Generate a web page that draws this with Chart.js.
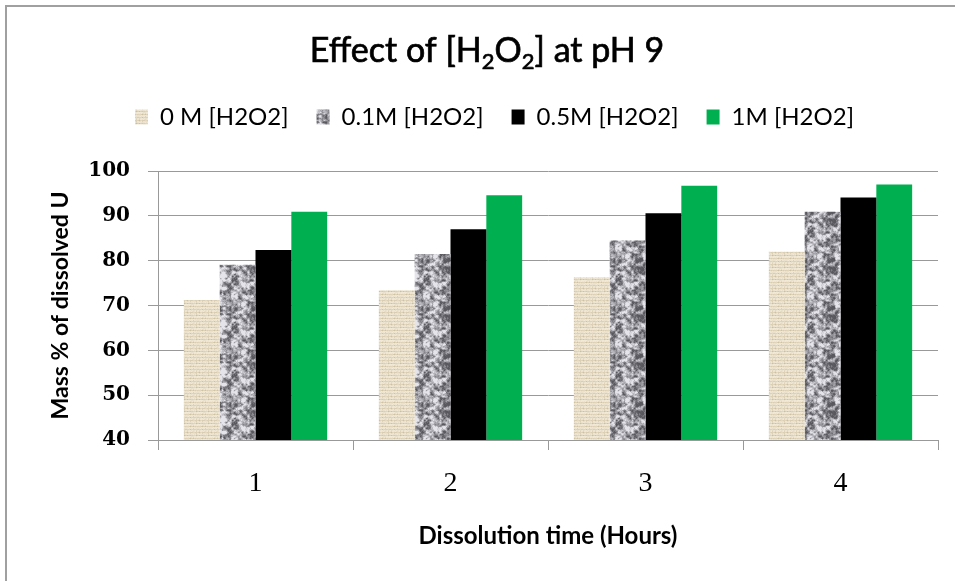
<!DOCTYPE html>
<html>
<head>
<meta charset="utf-8">
<script src="https://cdn.jsdelivr.net/npm/chart.js@4.4.1/dist/chart.umd.min.js"></script>
<style>
  html, body { margin: 0; padding: 0; background: #fff; }
  canvas { display: block; }
</style>
</head>
<body>
<canvas id="h2o2Chart" width="955" height="581"></canvas>
<script>
// Dissolution data, pH 9
const hours = ['1', '2', '3', '4'];
const conc0 = [71.2, 73.4, 76.3, 82.0];
const conc01 = [79.1, 81.5, 84.5, 90.9];
const conc05 = [82.4, 87.0, 90.6, 94.1];
const conc1 = [90.9, 94.6, 96.7, 97.0];
const seriesNames = ['0 M [H2O2]', '0.1M [H2O2]', '0.5M [H2O2]', '1M [H2O2]'];
const yMin = 40, yMax = 100, yStep = 10;

// small integer hash -> [0,1), keeps the textures the same on every load
function hash(x, y, s) {
    let h = Math.imul(x, 374761393) + Math.imul(y, 668265263) + Math.imul(s, 1442695041);
    h = Math.imul(h ^ (h >>> 13), 1274126177);
    h ^= h >>> 16;
    return (h >>> 0) / 4294967296;
}

function valueNoise(x, y, cell, size, seed) {
    const n = size / cell;
    const gx = x / cell, gy = y / cell;
    const x0 = Math.floor(gx), y0 = Math.floor(gy);
    let fx = gx - x0, fy = gy - y0;
    fx = fx * fx * (3 - 2 * fx);
    fy = fy * fy * (3 - 2 * fy);
    const a = hash(x0 % n, y0 % n, seed);
    const b = hash((x0 + 1) % n, y0 % n, seed);
    const c = hash(x0 % n, (y0 + 1) % n, seed);
    const d = hash((x0 + 1) % n, (y0 + 1) % n, seed);
    return (a * (1 - fx) + b * fx) * (1 - fy) + (c * (1 - fx) + d * fx) * fy;
}

function makeTile(size, painter) {
    const c = document.createElement('canvas');
    c.width = size; c.height = size;
    const g = c.getContext('2d');
    const img = g.createImageData(size, size);
    for (let y = 0; y < size; y++) {
        for (let x = 0; x < size; x++) {
            const [r, gr, b] = painter(x, y);
            const i = (y * size + x) * 4;
            img.data[i] = r; img.data[i + 1] = gr; img.data[i + 2] = b; img.data[i + 3] = 255;
        }
    }
    g.putImageData(img, 0, 0);
    return c;
}

// woven beige fill
function burlapTile() {
    return makeTile(12, (x, y) => {
        let r = 236, g = 228, b = 208;
        if (y % 3 === 0) { r -= 14; g -= 17; b -= 24; }
        if (x % 3 === 1 && hash(x, y, 7) > 0.5) { r -= 12; g -= 14; b -= 18; }
        const n = (hash(x, y, 3) - 0.5) * 12;
        return [r + n, g + n, b + n];
    });
}

// mottled grey fill
function graniteTile() {
    const size = 48;
    return makeTile(size, (x, y) => {
        const v = 0.55 * valueNoise(x, y, 4, size, 11) + 0.45 * valueNoise(x, y, 2, size, 5) + (hash(x, y, 9) - 0.5) * 0.15;
        let t = (v - 0.22) / 0.5;
        t = Math.max(0, Math.min(1, t));
        return [88 + t * 140, 88 + t * 140, 94 + t * 140];
    });
}

const ctx = document.getElementById('h2o2Chart').getContext('2d');
const burlap = ctx.createPattern(burlapTile(), 'repeat');
const granite = ctx.createPattern(graniteTile(), 'repeat');

// white page and the frame lines at top/left
const frame = {
    id: 'frame',
    beforeDraw(chart) {
        const c = chart.ctx;
        c.save();
        c.fillStyle = '#fff';
        c.fillRect(0, 0, chart.width, chart.height);
        c.strokeStyle = '#a0a0a0';
        c.lineWidth = 2;
        c.beginPath();
        c.moveTo(6, chart.height);
        c.lineTo(6, 6);
        c.lineTo(chart.width, 6);
        c.stroke();
        c.restore();
    }
};

// chart title with subscript digits
const subTitle = {
    id: 'subTitle',
    afterDraw(chart) {
        const c = chart.ctx;
        const parts = [['Effect of [H', false], ['2', true], ['O', false], ['2', true], ['] at pH 9', false]];
        const big = '34px Lato', small = '22px Lato';
        c.save();
        c.fillStyle = '#000';
        c.strokeStyle = '#000';
        c.lineWidth = 0.7;
        c.textBaseline = 'alphabetic';
        let w = 0;
        parts.forEach(([t, sub]) => { c.font = sub ? small : big; w += c.measureText(t).width; });
        let x = 487 - w / 2;
        const base = 62;
        parts.forEach(([t, sub]) => {
            c.font = sub ? small : big;
            const y = sub ? base + 7 : base;
            c.fillText(t, x, y);
            c.strokeText(t, x, y);
            x += c.measureText(t).width;
        });
        c.restore();
    }
};

// extra room between the legend row and the plot
const legendGap = {
    id: 'legendGap',
    beforeInit(chart) {
        const fit = chart.legend.fit;
        chart.legend.fit = function () {
            fit.call(this);
            this.height = 94;
        };
    }
};

new Chart(ctx, {
    type: 'bar',
    data: {
        labels: hours,
        datasets: [
            { label: seriesNames[0], data: conc0, backgroundColor: burlap },
            { label: seriesNames[1], data: conc01, backgroundColor: granite },
            { label: seriesNames[2], data: conc05, backgroundColor: '#000000' },
            { label: seriesNames[3], data: conc1, backgroundColor: '#00b050' }
        ]
    },
    options: {
        responsive: false,
        animation: false,
        devicePixelRatio: 1,
        layout: { padding: { top: 77, left: 34, right: 0, bottom: 0 } },
        datasets: {
            bar: { categoryPercentage: 0.735, barPercentage: 1, borderWidth: 0 }
        },
        plugins: {
            title: { display: false },
            tooltip: { enabled: false },
            legend: {
                position: 'top',
                labels: {
                    boxWidth: 13,
                    boxHeight: 15,
                    padding: 28,
                    color: '#000',
                    font: { family: 'Lato', size: 24 }
                }
            }
        },
        scales: {
            x: {
                grid: { offset: true, drawOnChartArea: false, drawTicks: true, tickLength: 10, color: '#999' },
                border: { color: '#999', width: 1 },
                ticks: { color: '#000', padding: 17, font: { family: 'Liberation Serif', size: 28 } },
                title: {
                    display: true,
                    text: 'Dissolution time (Hours)',
                    color: '#000',
                    padding: { top: 0, bottom: 30 },
                    font: { family: 'Lato', size: 24, weight: 'bold' }
                },
                afterFit(scale) { scale.height = 141; }
            },
            y: {
                min: yMin,
                max: yMax,
                ticks: { stepSize: yStep, color: '#000', padding: 18, font: { family: 'DejaVu Serif', size: 20, weight: 'bold' } },
                grid: { color: '#999', tickLength: 10 },
                border: { color: '#999', width: 1 },
                title: {
                    display: true,
                    text: 'Mass % of dissolved U',
                    color: '#000',
                    padding: { top: 13, bottom: 0 },
                    font: { family: 'Lato', size: 23, weight: 'bold' }
                },
                afterFit(scale) { scale.width = 124; }
            },
            spacer: {
                position: 'right',
                display: true,
                grid: { display: false },
                border: { display: false },
                ticks: { display: false },
                afterFit(scale) { scale.width = 17; }
            }
        }
    },
    plugins: [frame, subTitle, legendGap]
});
</script>
</body>
</html>
